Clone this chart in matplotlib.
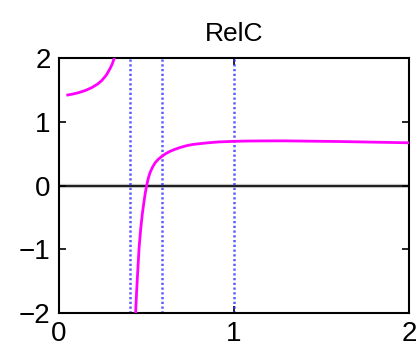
import matplotlib
matplotlib.use("Agg")
import matplotlib.pyplot as plt

plt.rcParams['font.family'] = ['Liberation Sans', 'DejaVu Sans']

# RelC curve, left branch (below the pole)
x_left = [0.05, 0.08, 0.11, 0.15, 0.187, 0.22, 0.244, 0.27, 0.291, 0.305, 0.316]
y_left = [1.42, 1.435, 1.455, 1.49, 1.535, 1.59, 1.645, 1.73, 1.83, 1.91, 2.0]

# RelC curve, right branch (above the pole)
x_right = [0.438, 0.443, 0.45, 0.458, 0.467, 0.476, 0.485, 0.493, 0.501, 0.51,
           0.52, 0.535, 0.549, 0.567, 0.587, 0.61, 0.634, 0.66, 0.691, 0.73,
           0.767, 0.844, 0.91, 1.0, 1.09, 1.2, 1.3, 1.45, 1.6, 1.8, 2.0]
y_right = [-2.0, -1.7, -1.35, -0.97, -0.68, -0.45, -0.27, -0.12, 0.0, 0.11,
           0.20, 0.29, 0.355, 0.41, 0.455, 0.50, 0.535, 0.565, 0.595, 0.625,
           0.645, 0.668, 0.683, 0.693, 0.698, 0.70, 0.70, 0.695, 0.69, 0.68, 0.67]

# marker positions
vlines = [0.407, 0.587, 1.0]

fig = plt.figure(figsize=(4.18, 3.55), dpi=100)
ax = fig.add_axes([0.1411, 0.1183, 0.8373, 0.7183])

ax.axhline(0, color='#888888', lw=3, alpha=0.5, zorder=1)
ax.axhline(0, color='black', lw=1.2, zorder=2)
for v in vlines:
    ax.axvline(v, color='#3333ff', lw=1.8, ls=(0, (0.9, 1.0)), alpha=0.8, zorder=2)

ax.plot(x_left, y_left, color='magenta', lw=2, zorder=3)
ax.plot(x_right, y_right, color='magenta', lw=2, zorder=3)

ax.set_xlim(0, 2)
ax.set_ylim(-2, 2)
ax.set_xticks([0, 1, 2])
ax.set_yticks([-2, -1, 0, 1, 2])
ax.tick_params(direction='in', length=5, width=1.2, labelsize=20,
               top=True, right=True, pad=6)
for s in ax.spines.values():
    s.set_linewidth(1.5)

ax.set_title('RelC', fontsize=19, pad=12)

fig.savefig('out.png', dpi=100)
